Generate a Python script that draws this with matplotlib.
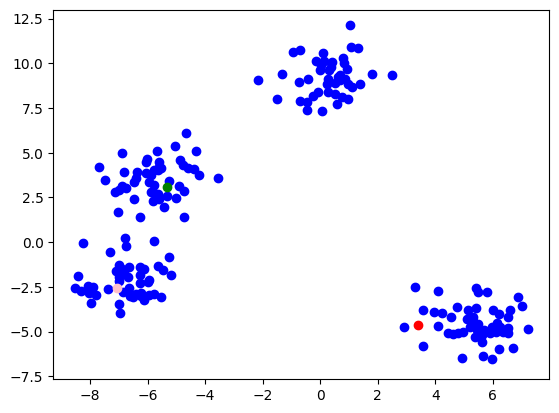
import matplotlib
matplotlib.use("Agg")
import matplotlib.pyplot as plt
import numpy as np

# blob points, grouped by cluster
top_x = [1.03, 1.07, 1.31, -0.96, -0.71, 0.09, -0.15, 0.13, 0.40, 0.79, 0.82, 0.02, 0.37,
         0.93, -0.01, -2.17, -1.34, 1.80, 2.49, -0.75, -0.43, 0.26, 0.23, 0.61, 0.68, 0.86,
         0.96, 1.10, 1.38, -0.08, -0.26, 0.26, 0.51, 0.75, 0.96, -1.51, -0.71, -0.47, -0.47,
         0.58, 0.06, 0.68, 0.30, 0.50]
top_y = [12.16, 10.94, 10.88, 10.66, 10.77, 10.55, 10.15, 10.15, 10.10, 10.27, 10.04, 9.88, 9.82,
         9.71, 9.60, 9.09, 9.43, 9.43, 9.37, 8.98, 9.15, 9.15, 8.87, 9.26, 9.04, 9.15,
         8.87, 8.70, 8.87, 8.42, 8.20, 8.37, 8.31, 8.14, 8.03, 8.03, 7.92, 7.86, 7.40,
         7.75, 7.36, 9.37, 9.60, 8.90]

mid_x = [-4.68, -5.03, -5.68, -4.33, -6.90, -6.02, -6.05, -5.61, -5.59, -5.65, -4.87, -4.78,
         -4.60, -4.37, -4.22, -7.68, -3.56, -6.81, -6.38, -6.42, -6.46, -6.05, -5.88, -5.76,
         -5.53, -7.47, -5.94, -5.76, -5.88, -5.76, -5.80, -5.26, -6.89, -6.75, -7.15, -6.98,
         -4.91, -4.75, -6.46, -5.32, -5.01, -5.44, -7.04, -6.25, -4.72, -5.65, -5.59]
mid_y = [6.08, 5.39, 5.11, 5.11, 4.96, 4.64, 4.49, 4.49, 4.22, 4.03, 4.58, 4.30,
         4.16, 4.08, 3.78, 4.22, 3.60, 3.94, 3.94, 3.60, 3.38, 3.84, 3.75, 4.03,
         4.12, 3.47, 3.38, 3.19, 2.82, 2.72, 2.29, 3.41, 3.13, 3.04, 2.78, 2.91,
         3.13, 2.85, 2.44, 2.59, 2.48, 1.98, 1.66, 1.38, 1.42, 2.67, 2.44]

low_x = [-8.23, -6.77, -6.75, -5.79, -7.29, -5.26, -6.98, -6.66, -7.10, -6.81, -7.00, -6.69,
         -6.25, -6.14, -6.28, -5.94, -6.28, -5.65, -5.47, -5.20, -8.43, -8.51, -8.31, -8.08,
         -7.89, -8.02, -7.79, -7.97, -7.39, -6.87, -6.63, -6.60, -6.22, -5.94, -5.76, -5.53,
         -6.11, -7.00, -6.95, -5.99, -6.52, -6.22, -7.00, -6.90, -6.40]
low_y = [-0.07, 0.21, -0.22, 0.08, -0.53, -0.85, -1.28, -1.37, -1.59, -1.71, -1.93, -1.93,
         -1.41, -1.52, -1.84, -2.12, -2.30, -1.34, -1.56, -1.84, -1.90, -2.58, -2.71, -2.46,
         -2.49, -2.82, -2.96, -3.38, -2.64, -2.77, -2.58, -3.01, -3.01, -2.96, -2.90, -3.05,
         -3.24, -3.46, -3.98, -2.21, -3.05, -2.86, -2.20, -1.50, -2.90]

right_x = [3.29, 4.11, 5.42, 5.48, 5.79, 6.86, 7.01, 3.57, 3.96, 4.23, 4.77, 4.55, 5.15,
           5.42, 5.10, 5.30, 5.21, 5.50, 5.44, 4.98, 4.80, 5.62, 5.38, 5.62, 4.45, 4.63,
           6.00, 6.23, 6.60, 6.54, 6.14, 5.97, 6.26, 5.91, 6.12, 6.37, 6.51, 6.51, 7.21,
           4.09, 2.91, 3.56, 6.20, 6.70, 5.67, 5.97, 4.92, 5.30, 5.70]
right_y = [-2.49, -2.71, -2.58, -2.77, -2.77, -3.09, -3.57, -3.80, -3.89, -3.94, -3.61, -4.20, -3.80,
           -3.70, -4.32, -4.16, -4.72, -4.58, -4.91, -5.00, -5.10, -5.19, -5.28, -5.56, -5.10, -5.14,
           -3.80, -4.02, -3.80, -4.20, -4.54, -4.72, -4.72, -5.10, -5.00, -5.00, -4.82, -5.06, -4.87,
           -4.69, -4.72, -5.81, -5.99, -5.90, -6.37, -6.55, -6.49, -4.40, -4.90]

# the three coloured points
centre_x = [-5.33, -7.07, 3.41]
centre_y = [3.10, -2.54, -4.63]
centre_colors = ['green', 'pink', 'red']

X = np.array(top_x + mid_x + low_x + right_x)
Y = np.array(top_y + mid_y + low_y + right_y)

fig, ax = plt.subplots(figsize=(6.4, 4.8), dpi=100)
ax.scatter(X, Y, c='blue')
for cx, cy, col in zip(centre_x, centre_y, centre_colors):
    ax.scatter(cx, cy, c=col)

ax.set_xlim(-9.28, 7.96)
ax.set_ylim(-7.67, 13.0)

fig.savefig('out.png', bbox_inches='tight')
